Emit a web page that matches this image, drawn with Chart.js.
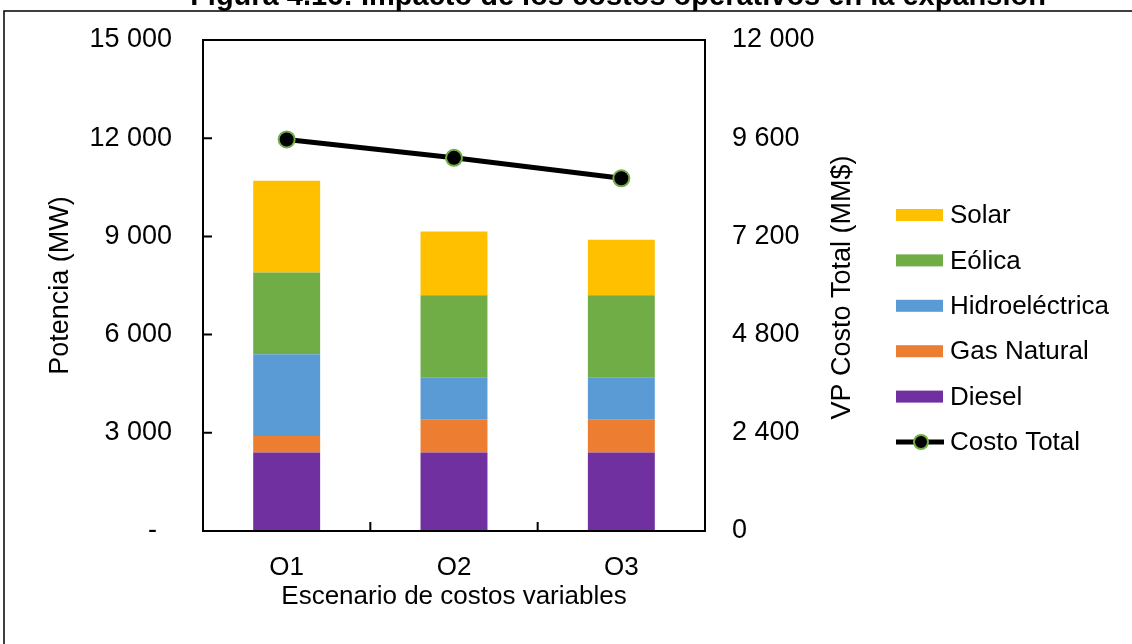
<!DOCTYPE html>
<html>
<head>
<meta charset="utf-8">
<script src="https://cdn.jsdelivr.net/npm/chart.js@4.4.1/dist/chart.umd.min.js"></script>
<style>
    body { margin:0; background:#fff; }
</style>
</head>
<body>
<canvas id="costChart" width="1132" height="644"></canvas>
<script>
// datos
let escenarios = ["O1", "O2", "O3"];
let diesel = [2400, 2400, 2400];
let gasNatural = [500, 1000, 1000];
let hidro = [2500, 1300, 1300];
let eolica = [2500, 2500, 2500];
let solar = [2800, 1950, 1700];
let costoTotal = [9570, 9120, 8620];

let titulo = "Figura 4.16: Impacto de los costos operativos en la expansión";
let tituloDer = "VP Costo Total (MM$)";
let fuente = "'Liberation Sans', Arial, sans-serif";

function miles(v) {
    if (v === 0) return "0";
    return v.toString().replace(/\B(?=(\d{3})+(?!\d))/g, " ");
}

// marco, titulo, marcas de ejes hacia adentro y leyenda
let extras = {
    id: "extras",
    afterDraw: function(chart) {
        let ctx = chart.ctx;
        let a = chart.chartArea;
        ctx.save();

        ctx.strokeStyle = "#000";
        ctx.lineWidth = 1.5;
        ctx.strokeRect(4, 11, 1200, 800);

        ctx.fillStyle = "#000";
        ctx.font = "bold 29px " + fuente;
        ctx.textAlign = "center";
        ctx.textBaseline = "alphabetic";
        ctx.fillText(titulo, 618, 5);

        // titulo eje derecho (se lee de abajo hacia arriba)
        ctx.save();
        ctx.translate(843, (a.top + a.bottom) / 2 + 2);
        ctx.rotate(-Math.PI / 2);
        ctx.font = "27px " + fuente;
        ctx.textBaseline = "middle";
        ctx.fillText(tituloDer, 0, 0);
        ctx.restore();

        ctx.lineWidth = 2;
        ctx.strokeRect(a.left, a.top, a.right - a.left, a.bottom - a.top);

        let y = chart.scales.y;
        ctx.beginPath();
        y.ticks.forEach(function(t) {
            let py = y.getPixelForValue(t.value);
            ctx.moveTo(a.left, py);
            ctx.lineTo(a.left + 9, py);
        });
        let x = chart.scales.x;
        for (let i = 0; i < escenarios.length - 1; i++) {
            let px = (x.getPixelForTick(i) + x.getPixelForTick(i + 1)) / 2;
            ctx.moveTo(px, a.bottom);
            ctx.lineTo(px, a.bottom - 9);
        }
        ctx.stroke();

        // leyenda
        let ds = chart.data.datasets;
        let orden = [4, 3, 2, 1, 0, 5];
        let lx = 896, ly = 215, paso = 45.4;
        ctx.font = "26px " + fuente;
        ctx.textAlign = "left";
        ctx.textBaseline = "middle";
        orden.forEach(function(k, i) {
            let d = ds[k];
            let cy = ly + i * paso;
            if (d.type === "line") {
                ctx.strokeStyle = d.borderColor;
                ctx.lineWidth = d.borderWidth;
                ctx.beginPath();
                ctx.moveTo(lx, cy);
                ctx.lineTo(lx + 48, cy);
                ctx.stroke();
                ctx.beginPath();
                ctx.arc(lx + 25, cy, 7, 0, Math.PI * 2);
                ctx.fillStyle = d.pointBackgroundColor;
                ctx.fill();
                ctx.lineWidth = d.pointBorderWidth;
                ctx.strokeStyle = d.pointBorderColor;
                ctx.stroke();
            } else {
                ctx.fillStyle = d.backgroundColor;
                ctx.fillRect(lx, cy - 6, 47, 12);
            }
            ctx.fillStyle = "#000";
            ctx.fillText(d.label, lx + 54, cy + 1);
        });
        ctx.restore();
    }
};

function sinRelleno(s) {
    s.paddingTop = 0;
    s.paddingBottom = 0;
}

let costChart = new Chart(document.getElementById("costChart"), {
    type: "bar",
    data: {
        labels: escenarios,
        datasets: [
            { label: "Diesel", data: diesel, backgroundColor: "#7030A0", order: 1 },
            { label: "Gas Natural", data: gasNatural, backgroundColor: "#ED7D31", order: 1 },
            { label: "Hidroeléctrica", data: hidro, backgroundColor: "#5B9BD5", order: 1 },
            { label: "Eólica", data: eolica, backgroundColor: "#70AD47", order: 1 },
            { label: "Solar", data: solar, backgroundColor: "#FFC000", order: 1 },
            {
                type: "line",
                label: "Costo Total",
                data: costoTotal,
                yAxisID: "y2",
                borderColor: "#000",
                borderWidth: 5,
                pointRadius: 8,
                pointBackgroundColor: "#000",
                pointBorderColor: "#70AD47",
                pointBorderWidth: 2,
                tension: 0,
                order: 0
            }
        ]
    },
    options: {
        responsive: false,
        animation: false,
        layout: { padding: { left: 0, top: 40, right: 257, bottom: 0 } },
        datasets: { bar: { categoryPercentage: 1, barPercentage: 0.4 } },
        plugins: { legend: { display: false }, tooltip: { enabled: false } },
        scales: {
            x: {
                stacked: true,
                grid: { display: false, drawTicks: false },
                border: { display: false },
                ticks: { color: "#000", padding: 21, font: { family: fuente, size: 26 } },
                title: {
                    display: true,
                    text: "Escenario de costos variables",
                    color: "#000",
                    font: { family: fuente, size: 26 },
                    padding: { top: 0, bottom: 32 }
                },
                afterFit: function(s) { s.height = 113; }
            },
            y: {
                stacked: true,
                position: "left",
                min: 0,
                max: 15000,
                grid: { display: false, drawTicks: false },
                border: { display: false },
                ticks: {
                    stepSize: 3000,
                    color: "#000",
                    padding: 31,
                    font: { family: fuente, size: 27 },
                    callback: function(v) { return v === 0 ? "-  " : miles(v); }
                },
                title: {
                    display: true,
                    text: "Potencia (MW)",
                    color: "#000",
                    font: { family: fuente, size: 27 },
                    padding: { top: 44, bottom: 0 }
                },
                afterFit: function(s) { s.width = 203; sinRelleno(s); }
            },
            y2: {
                position: "right",
                min: 0,
                max: 12000,
                grid: { display: false, drawTicks: false },
                border: { display: false },
                ticks: {
                    stepSize: 2400,
                    color: "#000",
                    padding: 27,
                    font: { family: fuente, size: 27 },
                    callback: function(v) { return miles(v); }
                },
                afterFit: function(s) { s.width = 170; sinRelleno(s); }
            }
        }
    },
    plugins: [extras]
});
</script>
</body>
</html>
